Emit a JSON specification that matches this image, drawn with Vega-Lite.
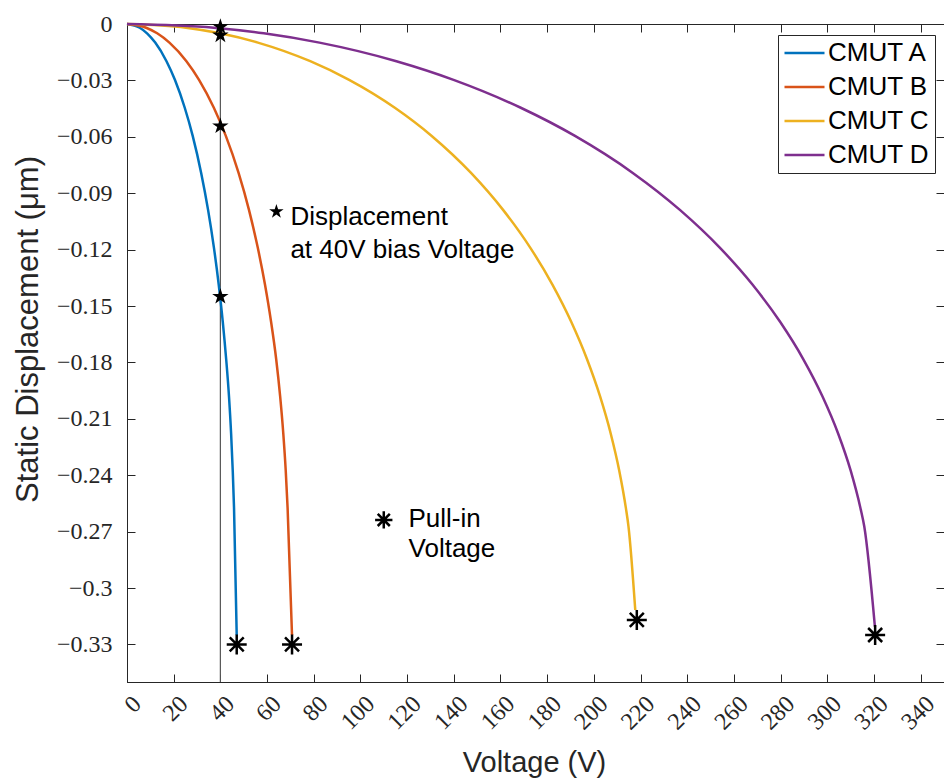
{
  "$schema": "https://vega.github.io/schema/vega-lite/v6.json",
  "width": 817,
  "height": 658,
  "autosize": {"type": "none"},
  "padding": {"left": 127, "top": 24, "right": 0, "bottom": 96},
  "background": "white",
  "config": {
    "view": {"stroke": "#262626", "strokeWidth": 1},
    "axis": {"grid": false, "domainColor": "#262626", "tickColor": "#262626", "labelColor": "#262626", "titleColor": "#262626", "tickSize": -8, "tickWidth": 1}
  },
  "datasets": {
    "curves": [
      {"device": "CMUT A", "v": 0, "d": 0},
      {"device": "CMUT A", "v": 5.45, "d": -0.00198},
      {"device": "CMUT A", "v": 8.59, "d": -0.00495},
      {"device": "CMUT A", "v": 12.09, "d": -0.0099},
      {"device": "CMUT A", "v": 16.92, "d": -0.0198},
      {"device": "CMUT A", "v": 20.52, "d": -0.0297},
      {"device": "CMUT A", "v": 24.74, "d": -0.04455},
      {"device": "CMUT A", "v": 28.12, "d": -0.0594},
      {"device": "CMUT A", "v": 31.77, "d": -0.0792},
      {"device": "CMUT A", "v": 34.75, "d": -0.099},
      {"device": "CMUT A", "v": 37.22, "d": -0.1188},
      {"device": "CMUT A", "v": 39.29, "d": -0.1386},
      {"device": "CMUT A", "v": 41.03, "d": -0.1584},
      {"device": "CMUT A", "v": 42.48, "d": -0.1782},
      {"device": "CMUT A", "v": 43.69, "d": -0.198},
      {"device": "CMUT A", "v": 44.6, "d": -0.2178},
      {"device": "CMUT A", "v": 45.3, "d": -0.2376},
      {"device": "CMUT A", "v": 45.85, "d": -0.2574},
      {"device": "CMUT A", "v": 47.0, "d": -0.325},
      {"device": "CMUT B", "v": 0, "d": 0},
      {"device": "CMUT B", "v": 8.2, "d": -0.00198},
      {"device": "CMUT B", "v": 12.92, "d": -0.00495},
      {"device": "CMUT B", "v": 18.18, "d": -0.0099},
      {"device": "CMUT B", "v": 25.46, "d": -0.0198},
      {"device": "CMUT B", "v": 30.86, "d": -0.0297},
      {"device": "CMUT B", "v": 37.21, "d": -0.04455},
      {"device": "CMUT B", "v": 42.29, "d": -0.0594},
      {"device": "CMUT B", "v": 47.8, "d": -0.0792},
      {"device": "CMUT B", "v": 52.28, "d": -0.099},
      {"device": "CMUT B", "v": 55.99, "d": -0.1188},
      {"device": "CMUT B", "v": 59.11, "d": -0.1386},
      {"device": "CMUT B", "v": 61.72, "d": -0.1584},
      {"device": "CMUT B", "v": 63.9, "d": -0.1782},
      {"device": "CMUT B", "v": 65.6, "d": -0.198},
      {"device": "CMUT B", "v": 66.95, "d": -0.2178},
      {"device": "CMUT B", "v": 68.0, "d": -0.2376},
      {"device": "CMUT B", "v": 68.8, "d": -0.2574},
      {"device": "CMUT B", "v": 70.69, "d": -0.325},
      {"device": "CMUT C", "v": 0, "d": 0},
      {"device": "CMUT C", "v": 25.28, "d": -0.00198},
      {"device": "CMUT C", "v": 39.85, "d": -0.00495},
      {"device": "CMUT C", "v": 56.07, "d": -0.0099},
      {"device": "CMUT C", "v": 78.5, "d": -0.0198},
      {"device": "CMUT C", "v": 95.16, "d": -0.0297},
      {"device": "CMUT C", "v": 114.74, "d": -0.04455},
      {"device": "CMUT C", "v": 130.41, "d": -0.0594},
      {"device": "CMUT C", "v": 147.38, "d": -0.0792},
      {"device": "CMUT C", "v": 161.19, "d": -0.099},
      {"device": "CMUT C", "v": 172.66, "d": -0.1188},
      {"device": "CMUT C", "v": 182.25, "d": -0.1386},
      {"device": "CMUT C", "v": 190.3, "d": -0.1584},
      {"device": "CMUT C", "v": 197.04, "d": -0.1782},
      {"device": "CMUT C", "v": 202.64, "d": -0.198},
      {"device": "CMUT C", "v": 207.21, "d": -0.2178},
      {"device": "CMUT C", "v": 210.88, "d": -0.2376},
      {"device": "CMUT C", "v": 213.71, "d": -0.2574},
      {"device": "CMUT C", "v": 214.84, "d": -0.2673},
      {"device": "CMUT C", "v": 217.74, "d": -0.3117},
      {"device": "CMUT D", "v": 0, "d": 0},
      {"device": "CMUT D", "v": 37.16, "d": -0.00198},
      {"device": "CMUT D", "v": 58.58, "d": -0.00495},
      {"device": "CMUT D", "v": 82.44, "d": -0.0099},
      {"device": "CMUT D", "v": 115.41, "d": -0.0198},
      {"device": "CMUT D", "v": 139.9, "d": -0.0297},
      {"device": "CMUT D", "v": 168.69, "d": -0.04455},
      {"device": "CMUT D", "v": 191.73, "d": -0.0594},
      {"device": "CMUT D", "v": 216.68, "d": -0.0792},
      {"device": "CMUT D", "v": 236.98, "d": -0.099},
      {"device": "CMUT D", "v": 253.84, "d": -0.1188},
      {"device": "CMUT D", "v": 267.94, "d": -0.1386},
      {"device": "CMUT D", "v": 279.78, "d": -0.1584},
      {"device": "CMUT D", "v": 289.69, "d": -0.1782},
      {"device": "CMUT D", "v": 297.91, "d": -0.198},
      {"device": "CMUT D", "v": 304.64, "d": -0.2178},
      {"device": "CMUT D", "v": 310.03, "d": -0.2376},
      {"device": "CMUT D", "v": 314.19, "d": -0.2574},
      {"device": "CMUT D", "v": 315.85, "d": -0.2673},
      {"device": "CMUT D", "v": 320.4, "d": -0.3206}
    ],
    "bias": [
      {"device": "CMUT A", "v": 40, "d": -0.145},
      {"device": "CMUT B", "v": 40, "d": -0.0543},
      {"device": "CMUT C", "v": 40, "d": -0.006},
      {"device": "CMUT D", "v": 40, "d": -0.0015}
    ],
    "pullin": [
      {"device": "CMUT A", "v": 47, "d": -0.33},
      {"device": "CMUT B", "v": 70.7, "d": -0.33},
      {"device": "CMUT C", "v": 218.4, "d": -0.317},
      {"device": "CMUT D", "v": 320.5, "d": -0.325}
    ],
    "noteStar": [{"v": 64.0, "d": -0.0998}],
    "noteAsterisk": [{"v": 110.0, "d": -0.2638}],
    "notes": [
      {"v": 70.0, "d": -0.1069, "text": "Displacement"},
      {"v": 70.0, "d": -0.1246, "text": "at 40V bias Voltage"},
      {"v": 120.6, "d": -0.2673, "text": "Pull-in"},
      {"v": 120.6, "d": -0.2833, "text": "Voltage"}
    ]
  },
  "resolve": {"axis": {"x": "independent", "y": "independent"}},
  "layer": [
    {
      "data": {"values": [{"v": 40}]},
      "mark": {"type": "rule", "color": "#555555", "strokeWidth": 1.2},
      "encoding": {
        "x": {"field": "v", "type": "quantitative", "scale": {"domain": [0, 350], "nice": false, "zero": false}, "axis": null}
      }
    },
    {
      "data": {"name": "curves"},
      "mark": {"type": "line", "strokeWidth": 2.5, "interpolate": "monotone"},
      "encoding": {
        "x": {
          "field": "v", "type": "quantitative",
          "scale": {"domain": [0, 350], "nice": false, "zero": false},
          "axis": {
            "orient": "bottom",
            "values": [0, 20, 40, 60, 80, 100, 120, 140, 160, 180, 200, 220, 240, 260, 280, 300, 320, 340],
            "labelAngle": -45, "labelAlign": "right", "labelBaseline": "middle",
            "labelFont": "Liberation Serif", "labelFontSize": 24, "labelOffset": 10, "labelPadding": 26,
            "labelOverlap": false,
            "title": "Voltage (V)", "titleFont": "Liberation Sans", "titleFontSize": 29, "titleFontWeight": "normal",
            "titleX": 407, "titleY": 80, "titleBaseline": "middle", "titleAlign": "center"
          }
        },
        "y": {
          "field": "d", "type": "quantitative",
          "scale": {"domain": [-0.35, 0], "nice": false, "zero": false},
          "axis": {
            "orient": "left",
            "values": [0, -0.03, -0.06, -0.09, -0.12, -0.15, -0.18, -0.21, -0.24, -0.27, -0.3, -0.33],
            "format": "~f",
            "labelFont": "Liberation Serif", "labelFontSize": 24, "labelPadding": 23,
            "labelOverlap": false,
            "title": "Static Displacement (μm)", "titleFont": "Liberation Sans", "titleFontSize": 31, "titleFontWeight": "normal",
            "titleX": -99, "titleY": 305, "titleAngle": -90, "titleBaseline": "middle", "titleAlign": "center"
          }
        },
        "color": {
          "field": "device", "type": "nominal",
          "scale": {"domain": ["CMUT A", "CMUT B", "CMUT C", "CMUT D"], "range": ["#0072BD", "#D95319", "#EDB120", "#7E2F8E"]},
          "legend": {
            "orient": "none", "legendX": 651, "legendY": 11, "title": null,
            "symbolType": "stroke", "symbolSize": 1600, "symbolStrokeWidth": 2.5,
            "labelFont": "Liberation Sans", "labelFontSize": 26, "labelColor": "black", "labelOffset": 2,
            "strokeColor": "#262626", "fillColor": "white", "padding": 5, "rowPadding": 8, "clipHeight": 26
          }
        }
      }
    },
    {
      "data": {"name": "bias"},
      "mark": {"type": "point", "shape": "M0,-1L0.225,-0.309L0.951,-0.309L0.363,0.118L0.588,0.809L0,0.382L-0.588,0.809L-0.363,0.118L-0.951,-0.309L-0.225,-0.309Z", "filled": true, "color": "black", "opacity": 1, "size": 300},
      "encoding": {
        "x": {"field": "v", "type": "quantitative", "scale": {"domain": [0, 350], "nice": false, "zero": false}, "axis": null},
        "y": {"field": "d", "type": "quantitative", "scale": {"domain": [-0.35, 0], "nice": false, "zero": false}, "axis": null}
      }
    },
    {
      "data": {"name": "pullin"},
      "mark": {"type": "point", "shape": "M0,-1L0,1M-1,0L1,0M-0.7,-0.7L0.7,0.7M-0.7,0.7L0.7,-0.7", "filled": false, "color": "black", "strokeWidth": 2.5, "opacity": 1, "size": 400},
      "encoding": {
        "x": {"field": "v", "type": "quantitative", "scale": {"domain": [0, 350], "nice": false, "zero": false}, "axis": null},
        "y": {"field": "d", "type": "quantitative", "scale": {"domain": [-0.35, 0], "nice": false, "zero": false}, "axis": null}
      }
    },
    {
      "data": {"name": "noteStar"},
      "mark": {"type": "point", "shape": "M0,-1L0.225,-0.309L0.951,-0.309L0.363,0.118L0.588,0.809L0,0.382L-0.588,0.809L-0.363,0.118L-0.951,-0.309L-0.225,-0.309Z", "filled": true, "color": "black", "opacity": 1, "size": 230},
      "encoding": {
        "x": {"field": "v", "type": "quantitative", "scale": {"domain": [0, 350], "nice": false, "zero": false}, "axis": null},
        "y": {"field": "d", "type": "quantitative", "scale": {"domain": [-0.35, 0], "nice": false, "zero": false}, "axis": null}
      }
    },
    {
      "data": {"name": "noteAsterisk"},
      "mark": {"type": "point", "shape": "M0,-1L0,1M-1,0L1,0M-0.7,-0.7L0.7,0.7M-0.7,0.7L0.7,-0.7", "filled": false, "color": "black", "strokeWidth": 2.5, "opacity": 1, "size": 300},
      "encoding": {
        "x": {"field": "v", "type": "quantitative", "scale": {"domain": [0, 350], "nice": false, "zero": false}, "axis": null},
        "y": {"field": "d", "type": "quantitative", "scale": {"domain": [-0.35, 0], "nice": false, "zero": false}, "axis": null}
      }
    },
    {
      "data": {"name": "notes"},
      "mark": {"type": "text", "align": "left", "baseline": "alphabetic", "font": "Liberation Sans", "fontSize": 26, "color": "black"},
      "encoding": {
        "x": {"field": "v", "type": "quantitative", "scale": {"domain": [0, 350], "nice": false, "zero": false}, "axis": null},
        "y": {"field": "d", "type": "quantitative", "scale": {"domain": [-0.35, 0], "nice": false, "zero": false}, "axis": null},
        "text": {"field": "text", "type": "nominal"}
      }
    },
    {
      "data": {"name": "bias"},
      "mark": {"type": "point", "opacity": 0, "size": 1},
      "encoding": {
        "x": {
          "field": "v", "type": "quantitative", "scale": {"domain": [0, 350], "nice": false, "zero": false},
          "axis": {"orient": "top", "labels": false, "title": null, "domain": false,
            "values": [0, 20, 40, 60, 80, 100, 120, 140, 160, 180, 200, 220, 240, 260, 280, 300, 320, 340]}
        },
        "y": {
          "field": "d", "type": "quantitative", "scale": {"domain": [-0.35, 0], "nice": false, "zero": false},
          "axis": {"orient": "right", "labels": false, "title": null, "domain": false,
            "values": [0, -0.03, -0.06, -0.09, -0.12, -0.15, -0.18, -0.21, -0.24, -0.27, -0.3, -0.33]}
        }
      }
    }
  ]
}
